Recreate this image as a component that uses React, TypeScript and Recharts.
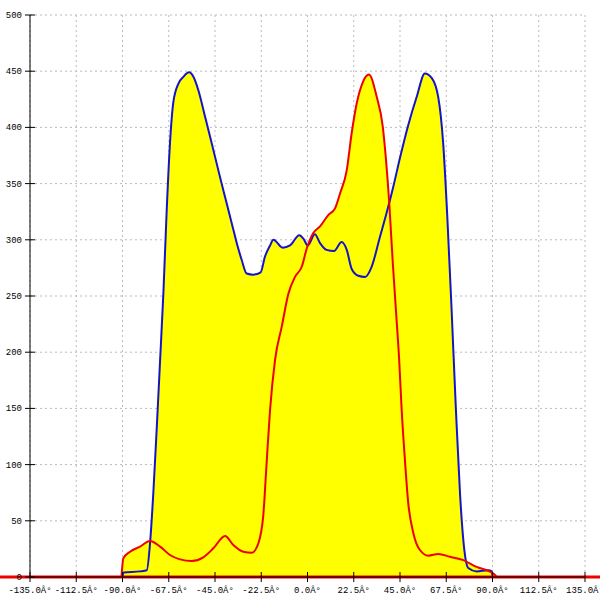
import React from "react";
import {
  ComposedChart,
  Area,
  Line,
  XAxis,
  YAxis,
  CartesianGrid,
  ReferenceLine,
} from "recharts";

// angle (deg) / value pairs
const blueAngles = [
  -90, -89.5, -81.5, -78.2, -76.6, -75, -73.3, -71.7, -70.1, -68.5, -66.9, -65.3,
  -62.8, -60.4, -57.6, -55.5, -53.1, -49.9, -46.6, -43.4, -40.1, -36.9, -34.4,
  -32, -29.6, -26.4, -22.8, -20.7, -18.2, -16.6, -12.1, -8.5, -4, -2, 0.1, 3.6,
  6.1, 9.3, 12.9, 16.6, 19.1, 21.5, 24.7, 28, 31.2, 35.3, 38.5, 41.7, 45, 49,
  53.1, 57.1, 60.4, 63.6, 66, 68, 70.1, 72.2, 74.2, 76.3, 78.2, 82.3, 87.9, 89.6,
  90,
];
const blueValues = [
  0, 4, 5, 6, 30, 75, 134, 193, 253, 326, 386, 422, 439, 445, 449, 445, 433, 410,
  386, 362, 338, 315, 297, 282, 270, 269, 271, 285, 295, 300, 293, 295, 304, 301,
  295, 305, 297, 291, 290, 298, 291, 274, 268, 267, 276, 303, 324, 347, 373, 402,
  427, 448, 444, 427, 386, 321, 238, 149, 74, 24, 8, 5, 6, 5, 0,
];

const redAngles = [
  -90.5, -89.6, -86.3, -81.5, -76.6, -71.7, -66.9, -62, -56.3, -50.7, -45.8,
  -40.1, -36.1, -31.2, -27.1, -23.9, -21.5, -19.8, -18.2, -15.8, -12.5, -9.3,
  -6.1, -2.8, -0.4, 2.8, 6.1, 10.1, 13.4, 15.8, 19.1, 21.5, 23.9, 27.1, 29.9,
  33.7, 36.6, 38.2, 39.8, 41.4, 43, 44.6, 45.8, 47.4, 49, 51.5, 54.7, 58.8, 63.6,
  69.3, 75.8, 82.3, 88.8, 91.2, 92,
];
const redValues = [
  0, 16.6, 22.5, 27, 32, 27, 19.6, 15.7, 14.2, 17.5, 25.5, 36.5, 28.5, 22.5,
  21.6, 30, 55, 104, 149, 193, 223, 252, 267, 276, 292, 306, 312, 322, 328, 341,
  362, 395, 421, 441, 447, 427, 401, 371, 332, 282, 238, 193, 149, 104, 66, 39,
  24, 19, 20.5, 18, 15, 9, 4.7, 1.8, 0,
];

const xTicks = [-135, -112.5, -90, -67.5, -45, -22.5, 0, 22.5, 45, 67.5, 90, 112.5, 135];
const yTicks = [0, 50, 100, 150, 200, 250, 300, 350, 400, 450, 500];

const blueData = blueAngles.map((x, i) => ({ x, v: blueValues[i] }));
const redData = redAngles.map((x, i) => ({ x, v: redValues[i] }));

const FONT = "'Liberation Mono', 'DejaVu Sans Mono', monospace";

function XTick(props: any) {
  const { x, y, payload } = props;
  return (
    <g>
      <line x1={x} x2={x} y1={y - 5} y2={y + 5} stroke="#000" />
      <text x={x} y={y + 16} textAnchor="middle" fontSize={9} fontFamily={FONT} fill="#000">
        {`${payload.value.toFixed(1)}Â°`}
      </text>
    </g>
  );
}

function YTick(props: any) {
  const { x, y, payload } = props;
  return (
    <g>
      <line x1={x - 5} x2={x + 5} y1={y} y2={y} stroke="#000" />
      <text x={x - 8} y={y + 3} textAnchor="end" fontSize={9} fontFamily={FONT} fill="#000">
        {payload.value}
      </text>
    </g>
  );
}

export default function App() {
  return (
    <div style={{ position: "absolute", left: 0, top: 0, width: 600, height: 600, background: "#fff" }}>
      <ComposedChart width={600} height={600} margin={{ top: 15, right: 15, left: 0, bottom: 0 }}>
        <CartesianGrid stroke="#bbbbbb" strokeDasharray="2 3" />
        <XAxis
          type="number"
          dataKey="x"
          domain={[-135, 135]}
          ticks={xTicks}
          allowDataOverflow
          height={23}
          stroke="#000"
          tickSize={0}
          tickMargin={0}
          tickLine={false}
          tick={<XTick />}
          interval={0}
        />
        <YAxis
          type="number"
          domain={[0, 500]}
          ticks={yTicks}
          width={30}
          stroke="#000"
          tickSize={0}
          tickMargin={0}
          tickLine={false}
          tick={<YTick />}
          interval={0}
        />
        <Area
          data={blueData}
          dataKey="v"
          type="monotone"
          fill="#ffff00"
          fillOpacity={1}
          stroke="none"
          isAnimationActive={false}
        />
        <Area
          data={redData}
          dataKey="v"
          type="monotone"
          fill="#ffff00"
          fillOpacity={1}
          stroke="none"
          isAnimationActive={false}
        />
        <Line
          data={blueData}
          dataKey="v"
          type="monotone"
          stroke="#1414c8"
          strokeWidth={2}
          dot={false}
          isAnimationActive={false}
        />
        <Line
          data={redData}
          dataKey="v"
          type="monotone"
          stroke="#ee0000"
          strokeWidth={2}
          dot={false}
          isAnimationActive={false}
        />
        {/* zero line of the red series, runs past both axes */}
        <ReferenceLine
          segment={[{ x: -150, y: 0 }, { x: 150, y: 0 }]}
          stroke="#ee0000"
          strokeWidth={3}
          ifOverflow="visible"
        />
      </ComposedChart>
    </div>
  );
}
